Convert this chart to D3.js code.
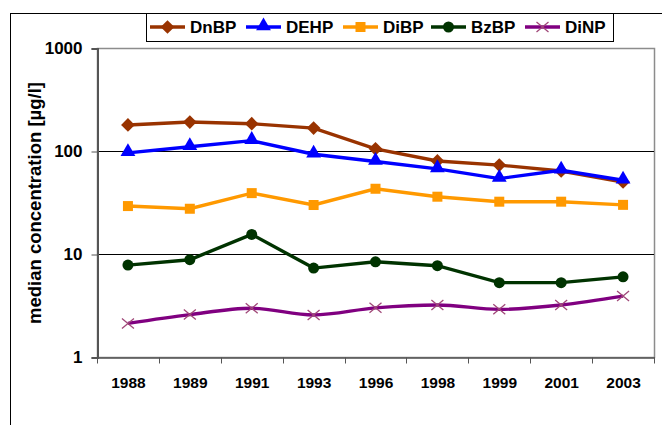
<!DOCTYPE html>
<html>
<head>
<script src="https://cdnjs.cloudflare.com/ajax/libs/d3/7.8.5/d3.min.js"></script>
<style>
  body { margin: 0; background: #fff; }
  svg text { font-family: "Liberation Sans", Arial, sans-serif; font-weight: bold; fill: #000; }
</style>
</head>
<body>
<script>
var years = ["1988", "1989", "1991", "1993", "1996", "1998", "1999", "2001", "2003"];
var dnbp = [179, 191, 184, 167, 105, 80, 73, 64, 50];
var dehp = [96, 110, 126, 93, 79, 67, 54, 65, 52];
var dibp = [29.2, 27.5, 39, 29.9, 43, 36, 32.2, 32.2, 30];
var bzbp = [7.8, 8.8, 15.5, 7.3, 8.4, 7.7, 5.27, 5.27, 6.0];
var dinp = [2.12, 2.58, 2.97, 2.56, 3.0, 3.2, 2.9, 3.2, 3.9];
var yTicks = [1, 10, 100, 1000];

var series = [
  {name: "DnBP", values: dnbp, color: "#993300", marker: "diamond"},
  {name: "DEHP", values: dehp, color: "#0000ff", marker: "triangle"},
  {name: "DiBP", values: dibp, color: "#ff9900", marker: "square"},
  {name: "BzBP", values: bzbp, color: "#003300", marker: "circle"},
  {name: "DiNP", values: dinp, color: "#800080", marker: "cross"}
];

var W = 662, H = 425;
var pLeft = 97, pRight = 654, pTop = 48, pBottom = 357;

var svg = d3.select("body").append("svg").attr("width", W).attr("height", H);

// outer chart border (cut off at right and bottom)
svg.append("rect").attr("x", 10.5).attr("y", 13.5).attr("width", 800).attr("height", 600)
  .attr("fill", "none").attr("stroke", "#000").attr("stroke-width", 1);

var x = d3.scaleBand().domain(years).range([pLeft, pRight]);
var y = d3.scaleLog().domain([1, 1000]).range([pBottom, pTop]);

// plot frame
svg.append("rect").attr("x", pLeft + 0.5).attr("y", pTop + 0.5)
  .attr("width", pRight - pLeft).attr("height", pBottom - pTop)
  .attr("fill", "none").attr("stroke", "#8c8c8c").attr("stroke-width", 1.5);

// gridlines
svg.append("g").selectAll("line").data([10, 100]).enter().append("line")
  .attr("x1", pLeft).attr("x2", pRight)
  .attr("y1", function(d) { return Math.round(y(d)) + 0.5; })
  .attr("y2", function(d) { return Math.round(y(d)) + 0.5; })
  .attr("stroke", "#000").attr("stroke-width", 1);

// y axis
var yAxis = svg.append("g").attr("transform", "translate(" + (pLeft + 0.5) + ",0.5)")
  .call(d3.axisLeft(y).tickValues(yTicks).tickFormat(d3.format("d")).tickSize(6).tickPadding(9));
yAxis.select(".domain").attr("stroke", "#555").attr("stroke-width", 2);
yAxis.selectAll(".tick line").attr("stroke", "#555");
yAxis.selectAll("text").style("font-size", "17px");

// x axis
var xAxis = svg.append("g").attr("transform", "translate(0.5," + (pBottom + 0.5) + ")")
  .call(d3.axisBottom(x).tickSize(0).tickPadding(19));
xAxis.select(".domain").attr("stroke", "#555").attr("stroke-width", 1.5);
xAxis.selectAll("text").style("font-size", "15.5px");
xAxis.append("g").selectAll("line").data(d3.range(years.length + 1)).enter().append("line")
  .attr("x1", function(i) { return Math.round(pLeft + i * x.step()); })
  .attr("x2", function(i) { return Math.round(pLeft + i * x.step()); })
  .attr("y1", 0).attr("y2", 6).attr("stroke", "#555");

// y axis title
svg.append("text")
  .attr("transform", "translate(41," + 203 + ") rotate(-90)")
  .attr("text-anchor", "middle").style("font-size", "18.5px")
  .text("median concentration [µg/l]");

function drawMarker(g, type, color, cx, cy) {
  if (type === "diamond") {
    g.append("path").attr("d", d3.symbol(d3.symbolDiamond2, 120)())
      .attr("transform", "translate(" + cx + "," + cy + ")").attr("fill", color);
  } else if (type === "triangle") {
    g.append("path").attr("d", d3.symbol(d3.symbolTriangle, 95)())
      .attr("transform", "translate(" + cx + "," + (cy - 1) + ")").attr("fill", color);
  } else if (type === "square") {
    g.append("rect").attr("x", cx - 5).attr("y", cy - 5).attr("width", 10).attr("height", 10).attr("fill", color);
  } else if (type === "circle") {
    g.append("circle").attr("cx", cx).attr("cy", cy).attr("r", 5.5).attr("fill", color);
  } else if (type === "cross") {
    g.append("path").attr("d", "M-6,-5L6,5M-6,5L6,-5")
      .attr("transform", "translate(" + cx + "," + cy + ")")
      .attr("stroke", "#a04878").attr("stroke-width", 1.3).attr("fill", "none");
  }
}

var cx = function(i) { return x(years[i]) + x.bandwidth() / 2; };

series.forEach(function(s) {
  var g = svg.append("g");
  var line = d3.line()
    .x(function(d, i) { return cx(i); })
    .y(function(d) { return y(d); })
    .curve(s.name === "DiNP" ? d3.curveMonotoneX : d3.curveLinear);
  g.append("path").attr("d", line(s.values))
    .attr("fill", "none").attr("stroke", s.color).attr("stroke-width", 3.4);
  s.values.forEach(function(v, i) { drawMarker(g, s.marker, s.color, cx(i), y(v)); });
});

// legend
var legend = svg.append("g");
legend.append("rect").attr("x", 146.5).attr("y", 13.5).attr("width", 467).attr("height", 28)
  .attr("fill", "#fff").attr("stroke", "#000");
var legX = [150, 246, 343, 431, 525];
series.forEach(function(s, i) {
  var lg = legend.append("g");
  lg.append("line").attr("x1", legX[i]).attr("x2", legX[i] + 35).attr("y1", 27).attr("y2", 27)
    .attr("stroke", s.color).attr("stroke-width", 3.4);
  drawMarker(lg, s.marker, s.color, legX[i] + 17.5, 27);
  lg.append("text").attr("x", legX[i] + 40).attr("y", 33).style("font-size", "17px").text(s.name);
});
</script>
</body>
</html>
